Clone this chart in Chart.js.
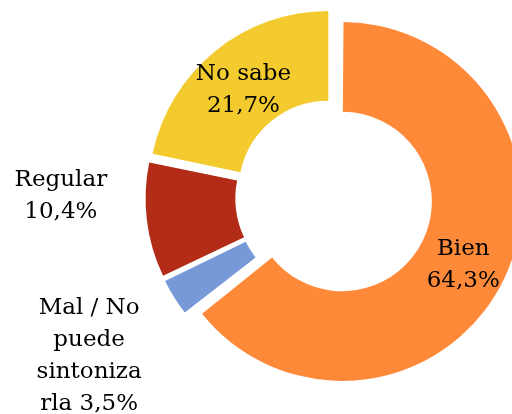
<!DOCTYPE html>
<html>
<head>
<meta charset="utf-8">
<script src="https://cdn.jsdelivr.net/npm/chart.js@4"></script>
<style>
  body { margin: 0; background: #fff; }
  #wrap { width: 512px; height: 414px; }
</style>
</head>
<body>
<div id="wrap"><canvas id="donut" width="512" height="414"></canvas></div>
<script>
// data
var categories = ['Bien', 'Mal / No puede sintonizarla', 'Regular', 'No sabe'];
var values = [64.3, 3.5, 10.4, 21.7];
// how each label is broken into lines, like the original
var labelLines = [
    ['Bien', '64,3%'],
    ['Mal / No', 'puede', 'sintoniza', 'rla 3,5%'],
    ['Regular', '10,4%'],
    ['No sabe', '21,7%']
];
var colors = ['#FE8938', '#7799D7', '#B22C17', '#F4CB2E'];

var shift = 9; // how far every slice is pulled out

var FONT = '23px "DejaVu Serif"';
var LINE = 32;

function arcFix(arc) {
    var c = arc.endAngle - arc.startAngle;
    return 1 - Math.sin(Math.min(Math.PI, c));
}

// chart.js also grows small/large arcs by (offset/4)*fix; take that back out
// so that every slice is only moved, not resized
var keepRadius = {
    id: 'keepRadius',
    afterDatasetsUpdate: function (chart) {
        chart.getDatasetMeta(0).data.forEach(function (arc) {
            var fix = arcFix(arc);
            arc.outerRadius -= shift * fix;
            arc.innerRadius -= shift * fix;
        });
    }
};

var labelsPlugin = {
    id: 'sliceLabels',
    afterDatasetsDraw: function (chart) {
        var ctx = chart.ctx;
        var arcs = chart.getDatasetMeta(0).data;
        ctx.save();
        ctx.font = FONT;
        ctx.fillStyle = '#000';
        ctx.textAlign = 'center';
        ctx.textBaseline = 'alphabetic';
        arcs.forEach(function (arc, i) {
            var mid = (arc.startAngle + arc.endAngle) / 2;
            var back = shift * arcFix(arc);
            var outerR = arc.outerRadius + back;
            var innerR = arc.innerRadius + back;
            var cx, cy;
            if (i === 0 || i === 3) {
                // inside the ring
                var r = (innerR + outerR) / 2 + shift;
                cx = arc.x + Math.cos(mid) * r;
                cy = arc.y + Math.sin(mid) * r + (i === 0 ? 2 : 1.5);
            } else {
                // outside, to the left of the slice
                var ro = outerR + shift;
                var ox = arc.x + Math.cos(mid) * ro;
                var oy = arc.y + Math.sin(mid) * ro;
                if (i === 2) { cx = ox - 86; cy = oy - 27; }
                else { cx = ox - 85; cy = oy + 56; }
            }
            var lines = labelLines[i];
            lines.forEach(function (t, k) {
                var y = cy + (k - (lines.length - 1) / 2) * LINE + 8.4;
                ctx.fillText(t, cx, y);
            });
        });
        ctx.restore();
    }
};

var chart = new Chart(document.getElementById('donut').getContext('2d'), {
    type: 'doughnut',
    data: {
        labels: categories,
        datasets: [{
            data: values,
            backgroundColor: colors,
            borderWidth: 0,
            offset: 4 * shift,
            hoverOffset: 0,
            clip: false
        }]
    },
    options: {
        responsive: false,
        animation: false,
        radius: 179.5,
        cutout: '50%',
        layout: { padding: { left: 156, right: 0, top: 0, bottom: 19 } },
        plugins: {
            legend: { display: false },
            tooltip: { enabled: false }
        }
    },
    plugins: [keepRadius, labelsPlugin]
});
</script>
</body>
</html>
